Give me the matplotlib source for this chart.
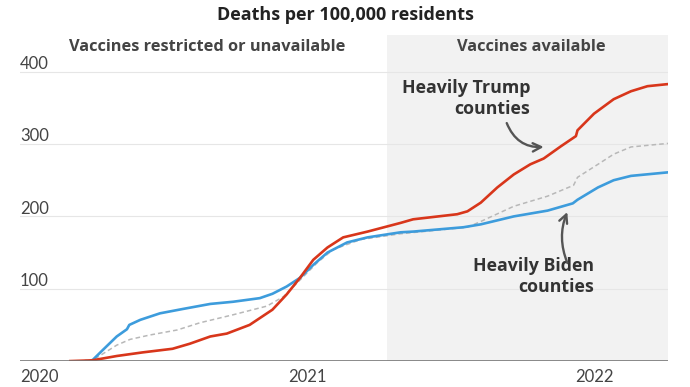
import pandas as pd
import matplotlib.pyplot as plt
import matplotlib.transforms as mtransforms

plt.rcParams['font.family'] = ['Open Sans', 'DejaVu Sans']

# deaths per 100,000 residents, cumulative
trump_dates = ["2020-03-05", "2020-04-02", "2020-05-03", "2020-06-05", "2020-07-13",
               "2020-08-04", "2020-08-30", "2020-09-20", "2020-10-19", "2020-11-17",
               "2020-12-05", "2020-12-22", "2021-01-08", "2021-01-26", "2021-02-15",
               "2021-03-18", "2021-04-29", "2021-05-15", "2021-07-10", "2021-07-23",
               "2021-08-09", "2021-08-30", "2021-09-20", "2021-10-11", "2021-10-28",
               "2021-11-19", "2021-12-08", "2021-12-10", "2021-12-31", "2022-01-25",
               "2022-02-16", "2022-03-09", "2022-04-05"]
trump_vals = [0, 1, 7, 12, 17, 24, 34, 38, 50, 71, 92, 115, 140, 157, 171, 179, 191,
              196, 203, 207, 219, 240, 258, 272, 280, 297, 311, 319, 342, 362, 373, 380, 383]

biden_dates = ["2020-03-25", "2020-04-01", "2020-04-15", "2020-05-03", "2020-05-16",
               "2020-05-19", "2020-06-02", "2020-06-27", "2020-07-26", "2020-08-30",
               "2020-09-28", "2020-11-01", "2020-11-17", "2020-12-05", "2020-12-22",
               "2021-01-08", "2021-01-26", "2021-02-20", "2021-03-18", "2021-04-29",
               "2021-05-15", "2021-07-18", "2021-08-09", "2021-09-20", "2021-11-02",
               "2021-12-04", "2021-12-10", "2022-01-05", "2022-01-25", "2022-02-16",
               "2022-04-05"]
biden_vals = [0, 0, 15, 34, 44, 50, 57, 66, 72, 79, 82, 87, 93, 103, 115, 133, 150,
              164, 171, 178, 179, 185, 189, 200, 208, 218, 223, 240, 250, 256, 261]

all_dates = ["2020-03-27", "2020-04-08", "2020-05-03", "2020-05-20", "2020-06-14",
             "2020-07-19", "2020-08-17", "2020-09-28", "2020-11-10", "2020-12-01",
             "2020-12-22", "2021-01-13", "2021-02-02", "2021-03-09", "2021-04-29",
             "2021-07-23", "2021-08-09", "2021-09-20", "2021-11-02", "2021-12-05",
             "2021-12-10", "2022-01-05", "2022-01-25", "2022-02-16", "2022-04-05"]
all_vals = [0, 5, 22, 30, 36, 43, 53, 64, 76, 89, 112, 136, 154, 168, 176, 185, 193,
            214, 228, 243, 254, 272, 286, 296, 301]

y_ticks = [100, 200, 300, 400]
x_ticks = ["2020-01-01", "2021-01-01", "2022-01-01"]
x_labels = ["2020", "2021", "2022"]
vaccine_start = "2021-04-12"
x_end = "2022-04-04"

red = "#d8361b"
blue = "#3d9cdc"
ink = "#333333"

fig = plt.figure(figsize=(6.9, 3.87), dpi=100)
ax = fig.add_axes([0.029, 0.067, 0.939, 0.843])

x0 = pd.Timestamp("2020-01-01")
x1 = pd.Timestamp(x_end)
ax.set_xlim(x0, x1)
ax.set_ylim(0, 451)

ax.axvspan(pd.Timestamp(vaccine_start), x1, color="#f2f2f2", zorder=0, lw=0)
ytrans = mtransforms.blended_transform_factory(ax.transAxes, ax.transData)
for v in y_ticks:
    ax.axhline(v, color="#e6e6e6", lw=0.8, zorder=1)
    ax.text(0.0, v + 4, str(v), transform=ytrans, ha="left", va="baseline",
            fontsize=12, color="#444444", family=["Lato", "DejaVu Sans"])
ax.axhline(0, color="#777777", lw=1.2, zorder=5)

ax.plot(pd.to_datetime(all_dates), all_vals, color="#b8b8b8", lw=1.1, ls=(0, (3, 2)), zorder=3)
ax.plot(pd.to_datetime(biden_dates), biden_vals, color=blue, lw=1.9, zorder=4)
ax.plot(pd.to_datetime(trump_dates), trump_vals, color=red, lw=1.9, zorder=4)

for s in ax.spines.values():
    s.set_visible(False)
ax.set_yticks([])
ax.set_xticks(pd.to_datetime(x_ticks))
ax.set_xticklabels(x_labels, fontsize=12, color="#444444", family=["Lato", "DejaVu Sans"])
ax.tick_params(axis="x", length=0, pad=6)
ax.get_xticklabels()[0].set_ha("left")

fig.text(0.5, 0.962, "Deaths per 100,000 residents", ha="center", va="center",
         fontsize=13, fontweight="bold", color="#222222")
ax.text(0.289, 0.963, "Vaccines restricted or unavailable", transform=ax.transAxes,
        ha="center", va="center", fontsize=11.8, fontweight="bold", color="#444444")
ax.text(0.789, 0.963, "Vaccines available", transform=ax.transAxes,
        ha="center", va="center", fontsize=11.8, fontweight="bold", color="#444444")

# labels and curved arrows
ax.text(pd.Timestamp("2021-10-11"), 363, "Heavily Trump\ncounties", ha="right", va="center",
        fontsize=12.8, fontweight="bold", color=ink, linespacing=1.2)
ax.text(pd.Timestamp("2021-12-31"), 117, "Heavily Biden\ncounties", ha="right", va="center",
        fontsize=12.8, fontweight="bold", color=ink, linespacing=1.2)

arrow = dict(arrowstyle="->,head_length=0.6,head_width=0.3", color="#555555", lw=1.7,
             shrinkA=0, shrinkB=0)
ax.annotate("", xy=(pd.Timestamp("2021-10-28"), 296), xytext=(pd.Timestamp("2021-09-11"), 329),
            arrowprops=dict(arrow, connectionstyle="arc3,rad=0.35"))
ax.annotate("", xy=(pd.Timestamp("2021-11-27"), 206), xytext=(pd.Timestamp("2021-11-27"), 136),
            arrowprops=dict(arrow, connectionstyle="arc3,rad=-0.2"))

fig.savefig("out.png", dpi=100)
